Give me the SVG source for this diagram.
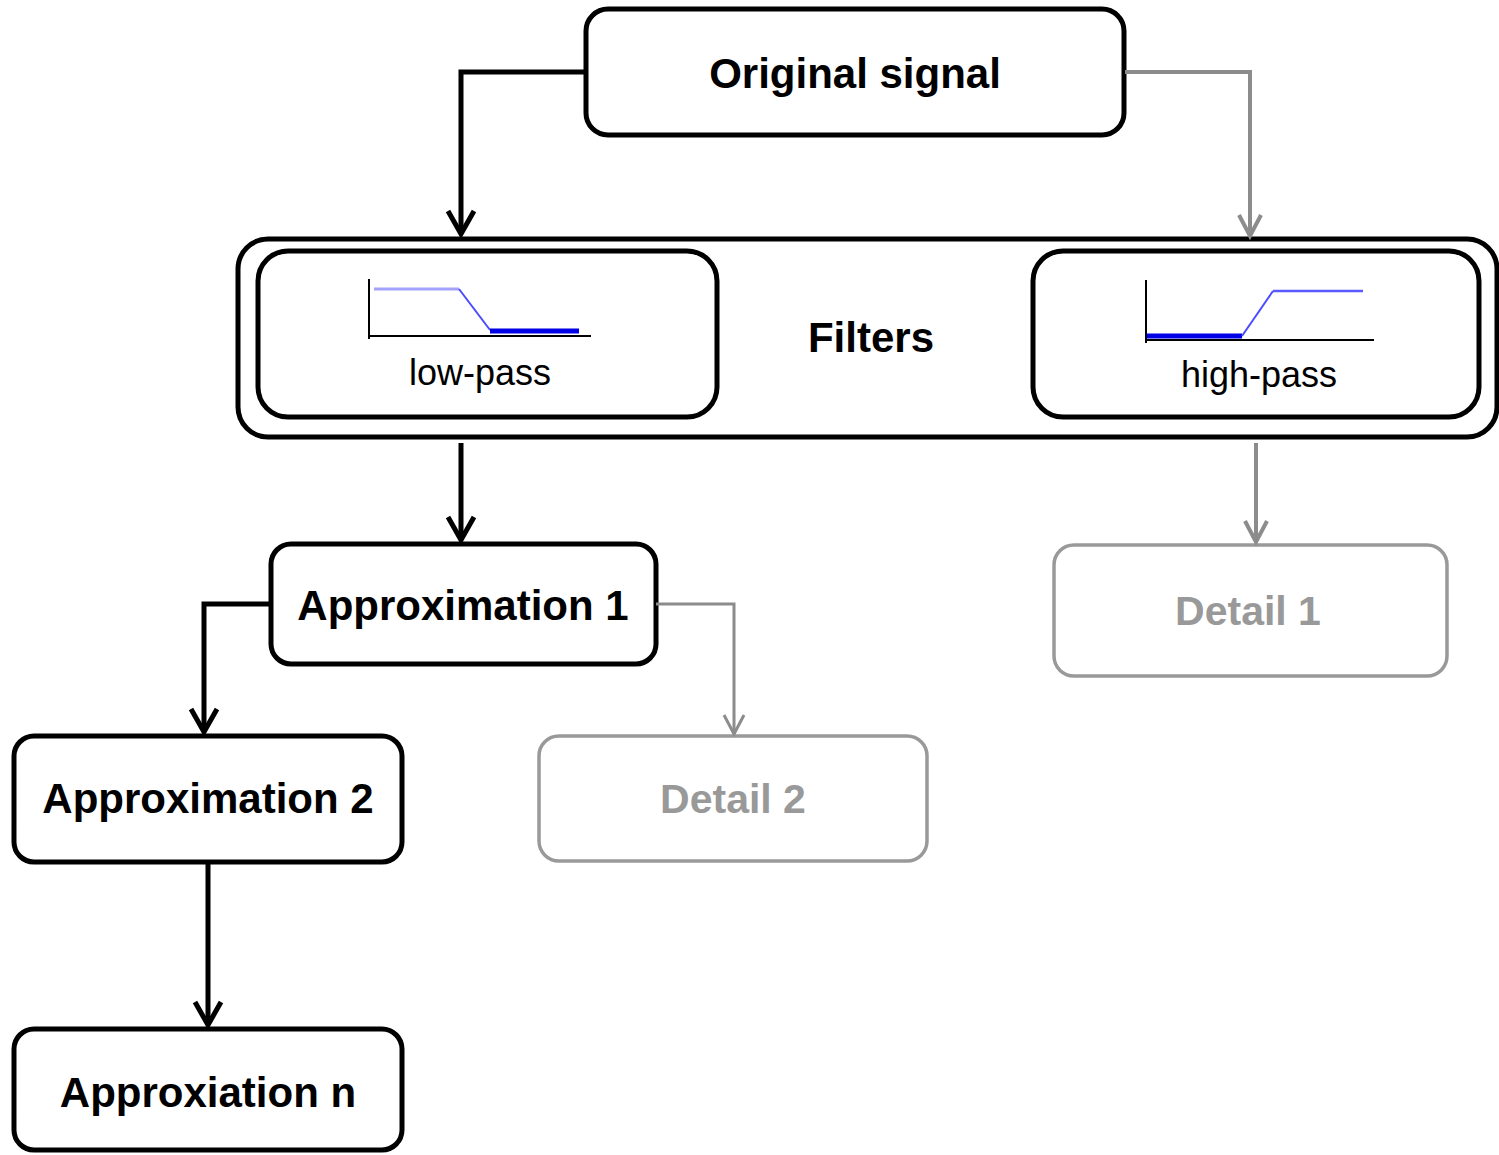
<svg xmlns="http://www.w3.org/2000/svg" width="1499" height="1155" viewBox="0 0 1499 1155">
<defs>
<style>
.box{fill:#fff;stroke:#000;stroke-width:5}
.gbox{fill:#fff;stroke:#999;stroke-width:3.5}
.lbl{font-family:"Liberation Sans",Arial,sans-serif;font-weight:bold;font-size:42px;text-anchor:middle;fill:#000}
.glbl{font-family:"Liberation Sans",Arial,sans-serif;font-weight:bold;font-size:41px;text-anchor:middle;fill:#999}
.sm{font-family:"Liberation Sans",Arial,sans-serif;font-size:36px;text-anchor:middle;fill:#000}
.bk{fill:none;stroke:#000;stroke-width:5}
.gr{fill:none;stroke:#8c8c8c;stroke-width:4}
.gr3{fill:none;stroke:#8c8c8c;stroke-width:3}
</style>
<marker id="ab" markerUnits="userSpaceOnUse" orient="auto" refX="0" refY="0" markerWidth="30" markerHeight="30" overflow="visible">
<path d="M-23,-13 L0,0 L-23,13" fill="none" stroke="#000" stroke-width="5"/>
</marker>
<marker id="ag" markerUnits="userSpaceOnUse" orient="auto" refX="0" refY="0" markerWidth="30" markerHeight="30" overflow="visible">
<path d="M-21,-11 L0,0 L-21,11" fill="none" stroke="#8c8c8c" stroke-width="4"/>
</marker>
<marker id="ag3" markerUnits="userSpaceOnUse" orient="auto" refX="0" refY="0" markerWidth="30" markerHeight="30" overflow="visible">
<path d="M-19,-10 L0,0 L-19,10" fill="none" stroke="#8c8c8c" stroke-width="3"/>
</marker>
</defs>
<rect width="1499" height="1155" fill="#fff"/>

<g id="filters">
<rect class="box" x="238" y="239" width="1259" height="198" rx="30" stroke-width="4"/>
<text class="lbl" x="871" y="352" font-size="41">Filters</text>
</g>

<g id="lowpass">
<rect class="box" x="258" y="251" width="459" height="166" rx="30" stroke-width="4"/>
<path d="M369,279 V339 M369,336 H591" fill="none" stroke="#000" stroke-width="2"/>
<path d="M374,289 H459" fill="none" stroke="#a3a3ff" stroke-width="3"/>
<path d="M459,289 L490,330" fill="none" stroke="#4b4bff" stroke-width="2"/>
<path d="M490,331 H579" fill="none" stroke="#0000e6" stroke-width="5"/>
<text class="sm" x="480" y="385">low-pass</text>
</g>

<g id="highpass">
<rect class="box" x="1033" y="251" width="446" height="166" rx="30" stroke-width="4"/>
<path d="M1146,280 V343 M1146,340 H1374" fill="none" stroke="#000" stroke-width="2"/>
<path d="M1147,336 H1242" fill="none" stroke="#0000e6" stroke-width="5"/>
<path d="M1242,336 L1273,291" fill="none" stroke="#4b4bff" stroke-width="2"/>
<path d="M1273,291 H1363" fill="none" stroke="#5a5aff" stroke-width="2.5"/>
<text class="sm" x="1259" y="387">high-pass</text>
</g>

<g id="original">
<rect class="box" x="586" y="9" width="538" height="126" rx="22"/>
<text class="lbl" x="855" y="88">Original signal</text>
</g>

<g id="approx1">
<rect class="box" x="271" y="544" width="385" height="120" rx="20"/>
<text class="lbl" x="463" y="620">Approximation 1</text>
</g>

<g id="detail1">
<rect class="gbox" x="1054" y="545" width="393" height="131" rx="20"/>
<text class="glbl" x="1248" y="625">Detail 1</text>
</g>

<g id="approx2">
<rect class="box" x="14" y="736" width="388" height="126" rx="20"/>
<text class="lbl" x="208" y="813">Approximation 2</text>
</g>

<g id="detail2">
<rect class="gbox" x="539" y="736" width="388" height="125" rx="20"/>
<text class="glbl" x="733" y="813">Detail 2</text>
</g>

<g id="approxn">
<rect class="box" x="14" y="1029" width="388" height="121" rx="20"/>
<text class="lbl" x="208" y="1107">Approxiation n</text>
</g>

<g id="connectors">
<path class="bk" d="M586,72 H461 V234" marker-end="url(#ab)"/>
<path class="gr" d="M1125,72 H1250 V236" marker-end="url(#ag)"/>
<path class="bk" d="M461,443 V540" marker-end="url(#ab)"/>
<path class="gr" d="M1256,443 V542" marker-end="url(#ag)"/>
<path class="bk" d="M271,604 H204 V732" marker-end="url(#ab)"/>
<path class="gr3" d="M656,604 H734 V734" marker-end="url(#ag3)"/>
<path class="bk" d="M208,862 V1025" marker-end="url(#ab)"/>
</g>
</svg>
